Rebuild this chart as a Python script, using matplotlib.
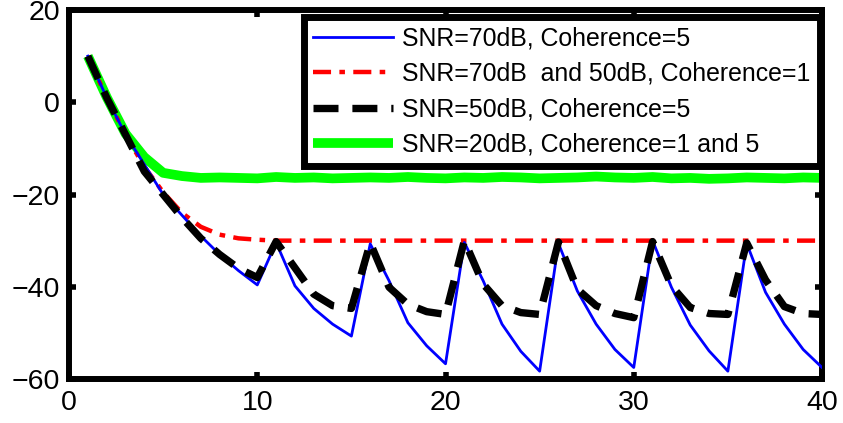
import numpy as np
import matplotlib
matplotlib.use('Agg')
import matplotlib.pyplot as plt

plt.rcParams['font.family'] = ['Liberation Sans', 'DejaVu Sans']
plt.rcParams['lines.scale_dashes'] = False

iters = list(range(1, 41))

snr70_coh5 = [10, 1, -7, -13.5, -20, -24.5, -29, -33, -36.5, -39.6,
              -30.4, -39.8, -44.7, -48.1, -50.7,
              -30.7, -38.7, -47.8, -52.8, -56.7,
              -30.4, -38.7, -48.1, -54.0, -58.3,
              -30.6, -40.9, -48.1, -53.6, -57.5,
              -30.0, -40.1, -48.3, -53.9, -58.3,
              -30.6, -41.2, -48.1, -53.6, -57.5]

snr70_50_coh1 = [10, 1, -7, -14, -19.5, -24, -27, -28.7, -29.5, -29.8,
                 -30, -30, -30, -30, -30, -30, -30, -30, -30, -30,
                 -30, -30, -30, -30, -30, -30, -30, -30, -30, -30,
                 -30, -30, -30, -30, -30, -30, -30, -30, -30, -30]

snr50_coh5 = [10, 1, -7, -15, -20, -25, -29.5, -33, -36, -38,
              -30.2, -35.9, -41.6, -44.1, -44.7,
              -30.5, -40.1, -43.8, -45.4, -46.0,
              -30.0, -39.4, -44.1, -45.6, -46.0,
              -30.3, -40.5, -44.1, -45.8, -46.7,
              -30.2, -39.8, -44.5, -45.8, -46.0,
              -30.5, -38.5, -44.3, -45.8, -46.0]

snr20 = [10, 1.1, -6.8, -11.9, -15.3, -16.0, -16.4, -16.3, -16.4, -16.5,
         -16.2, -16.4, -16.3, -16.5, -16.4, -16.3, -16.4, -16.2, -16.4, -16.5,
         -16.3, -16.4, -16.2, -16.3, -16.5, -16.4, -16.3, -16.1, -16.3, -16.4,
         -16.2, -16.5, -16.4, -16.6, -16.5, -16.3, -16.4, -16.5, -16.3, -16.4]

labels = ['SNR=70dB, Coherence=5',
          'SNR=70dB  and 50dB, Coherence=1',
          'SNR=50dB, Coherence=5',
          'SNR=20dB, Coherence=1 and 5']

fig = plt.figure(figsize=(8.43, 4.23), dpi=100)
ax = fig.add_axes([0.0819, 0.104, 0.8932, 0.8723])

ax.plot(iters, snr70_coh5, color='#0000ff', lw=2.0, label=labels[0], zorder=4)
ax.plot(iters, snr70_50_coh1, color='#ff0000', lw=3.2,
        linestyle=(0, (13, 6, 4, 6)), label=labels[1], zorder=3)
ax.plot(iters, snr50_coh5, color='black', lw=5.3,
        linestyle=(0, (18, 10)), label=labels[2], zorder=5)
ax.plot(iters, snr20, color='#00ff00', lw=7.0, label=labels[3],
        solid_capstyle='butt', zorder=2)

ax.set_xlim(0, 40)
ax.set_ylim(-60, 20)
ax.set_xticks([0, 10, 20, 30, 40])
ax.set_yticks([-60, -40, -20, 0, 20])
ax.tick_params(direction='in', length=5, width=4, labelsize=20.5,
               top=True, right=True)
ax.tick_params(axis='x', pad=8)
ax.tick_params(axis='y', pad=6.5)
for s in ax.spines.values():
    s.set_linewidth(4.3)

leg = ax.legend(loc='upper right', bbox_to_anchor=(0.997, 0.981),
                borderaxespad=0, fontsize=17.9, handlelength=3.2,
                handletextpad=0.36, labelspacing=0.46, borderpad=0.38,
                fancybox=False, framealpha=1, edgecolor='black')
leg.get_frame().set_linewidth(5)
leg.set_zorder(6)

fig.savefig('out.png', dpi=100)
